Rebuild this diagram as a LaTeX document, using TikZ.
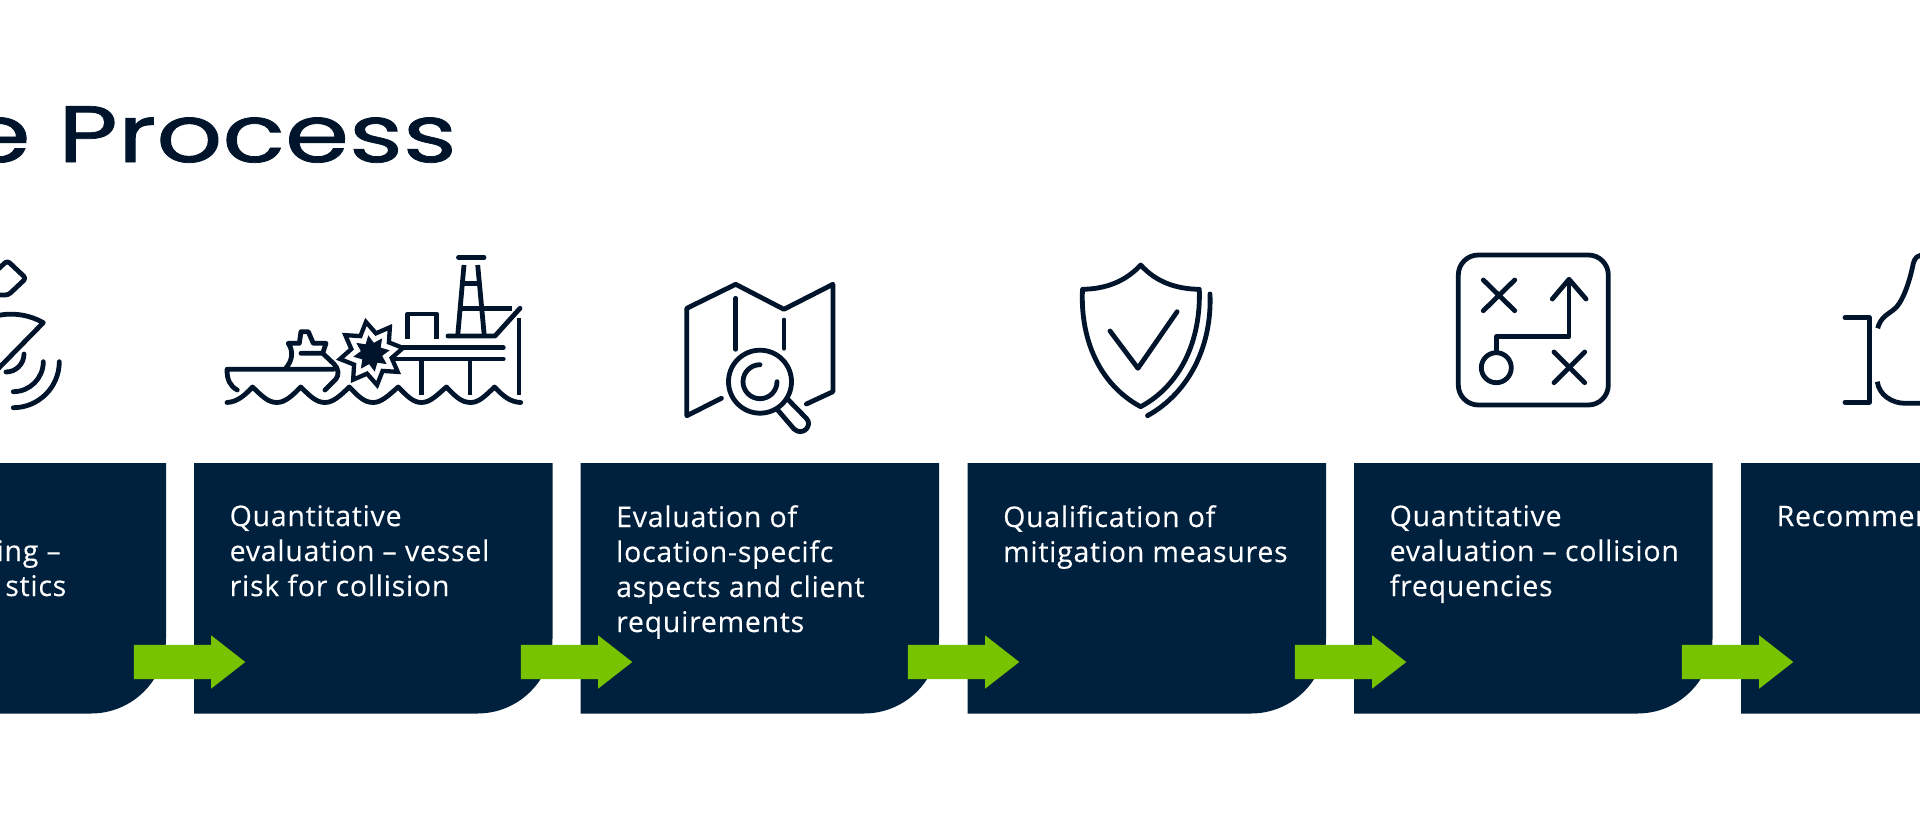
\documentclass[tikz,border=0pt]{standalone}
\usepackage{fontspec}
\setmainfont[LetterSpace=2.6,FakeBold=0.2]{Open Sans}
\newfontfamily\titlefont[FakeBold=0.9]{Poppins}
\usetikzlibrary{shapes.arrows,shapes.geometric}
\definecolor{boxblue}{HTML}{00213E}
\definecolor{inkblue}{HTML}{00142B}
\definecolor{arrowgreen}{HTML}{78C300}

% one panel of the process, bottom right corner rounded
\newcommand{\boxfill}[1]{
  \fill[boxblue] (#1,463) -- (#1+358.5,463) [rounded corners=75pt] -- (#1+358.5,713.5)
    [sharp corners] -- (#1,713.5) -- cycle;
}

\begin{document}
\begin{tikzpicture}[x=1pt,y=-1pt,node distance=387pt]
  \tikzstyle{steptext}=[anchor=north west,inner sep=0pt,align=left,text=white,
                        font=\fontsize{28.5}{35}\selectfont,
                        execute at begin node={\rule{0pt}{21pt}}]
  \tikzstyle{stepend}=[anchor=base east,inner sep=0pt,text=white,font=\fontsize{28.5}{35}\selectfont]
  \tikzstyle{steparrow}=[single arrow,fill=arrowgreen,inner sep=0pt,minimum height=111.5pt,
                         minimum width=53pt,text height=34pt,text depth=0pt,text width=1pt,
                         single arrow head extend=9.5pt,
                         single arrow tip angle=76,single arrow head indent=0pt]
  \tikzstyle{icon}=[draw=inkblue,line width=4.8pt,line cap=round,line join=round]
  \tikzstyle{iconflat}=[draw=inkblue,line width=4.8pt,line join=round]

  \useasboundingbox (0,0) rectangle (1920,827);
  \clip (0,0) rectangle (1920,827);

  \node[anchor=base east,inner sep=0pt,text=inkblue,font=\titlefont\fontsize{80}{90}\selectfont] (title) at (457,162)
    {\scalebox{1.29}[1]{e Process}};

  \boxfill{-192.5}
  \boxfill{194}
  \boxfill{580.5}
  \boxfill{967.5}
  \boxfill{1354}
  \boxfill{1741}

  \node[stepend] (t1a) at (61,561) {ing --};
  \node[stepend] (t1b) at (66.5,596) {stics};
  \node[steptext] (t2) at (229.5,505) {Quantitative\\evaluation -- vessel\\risk for collision};
  \node[steptext] (t3) at (616,505) {Evaluation of\\location-specifc\\aspects and client\\requirements};
  \node[steptext] (t4) at (1003,505) {Qualification of\\mitigation measures};
  \node[steptext] (t5) at (1389.5,505) {Quantitative\\evaluation -- collision\\frequencies};
  \node[steptext] (t6) at (1776.5,505) {Recommen};

  \node[steparrow] (a1) at (178.5,662) {};
  \node[steparrow] (a2) [right of=a1] {};
  \node[steparrow] (a3) [right of=a2] {};
  \node[steparrow] (a4) [right of=a3] {};
  \node[steparrow] (a5) [right of=a4] {};

  % dish
  \draw[icon,rounded corners=3pt] (-6,273) -- (7.3,260.7) -- (26,278.3) -- (8.3,295) -- (-6,295);
  \draw[icon] (-6,316.5) .. controls (10,312) and (28,314) .. (43.3,322.7) -- (-8,375);
  \draw[icon] (24,354) arc[start angle=0,end angle=-90,radius=18pt];
  \draw[icon] (43.3,361.7) arc[start angle=0,end angle=-90,radius=30pt];
  \draw[icon] (59.3,361.7) arc[start angle=0,end angle=-90,radius=46pt];

  % ship and platform
  \draw[icon] (227,402.5) .. controls (238,402) and (246,394) .. (252.5,387)
    .. controls (262,396) and (268,402.5) .. (276.8,402.5) .. controls (285,402.5) and (292,396) .. (300.7,387)
    .. controls (310,396) and (316,402.5) .. (325,402.5) .. controls (333,402.5) and (340,396) .. (349.3,387)
    .. controls (358,396) and (364,402.5) .. (373.2,402.5) .. controls (381,402.5) and (388,396) .. (398.2,387)
    .. controls (407,396) and (413,402.5) .. (421.4,402.5) .. controls (430,402.5) and (436,396) .. (446.4,387)
    .. controls (455,396) and (461,402.5) .. (470.7,402.5) .. controls (479,402.5) and (485,396) .. (494.6,387)
    .. controls (503,396) and (510,402) .. (520.7,402.5);
  \draw[icon] (237.3,390) .. controls (230,386) and (227,380) .. (227,369.3) -- (333.3,369.3);
  \draw[icon] (285.7,368.3) .. controls (292,361) and (294,352) .. (288.3,343.3) -- (299.3,343.3) -- (301,331.7)
    -- (308.3,331.7) -- (313.3,343.3) -- (326,343.3) -- (322.7,353.3) -- (301,353.3);
  \draw[icon] (322.7,353.3) -- (334,364) .. controls (339,369) and (339,375) .. (336,379) -- (325,390);
  \draw[iconflat] (407.7,339.3) -- (407.7,314) -- (436.7,314) -- (436.7,339.3);
  \draw[icon] (396,347.7) -- (503.3,347.7);
  \draw[icon] (396,359) -- (503.3,359);
  \draw[iconflat] (421.7,360) -- (421.7,395);
  \draw[iconflat] (470,360) -- (470,395);
  \draw[iconflat] (519,318) -- (519,395);
  \draw[icon] (458.5,257.3) -- (484,257.3);
  \draw[iconflat] (464,265) -- (457.7,336);
  \draw[iconflat] (477.7,265) -- (484.3,336);
  \draw[iconflat] (462,283.3) -- (480,283.3);
  \draw[iconflat] (461.7,308.3) -- (511.7,308.3);
  \draw[icon] (448,336) -- (495,336) -- (520,308.3);
  \node[star,star points=8,star point ratio=1.55,minimum size=64pt,inner sep=0pt,
        draw=inkblue,fill=white,line width=4.3pt,rotate=10] (burst) at (371.5,353.5) {};
  \node[star,star points=8,star point ratio=1.7,minimum size=37pt,inner sep=0pt,
        fill=inkblue,rotate=10] (burstcore) at (371.5,353.5) {};

  % map with lens
  \draw[icon] (721.4,398.3) -- (686.8,415.7) -- (686.8,308.3) -- (735.7,284.3) -- (783.9,309.3) -- (832.9,284.3)
    -- (832.9,391.7) -- (806.4,404);
  \draw[icon] (735.7,298.3) -- (735.7,349.3);
  \draw[icon] (783.9,320) -- (783.9,348.3);
  \node[circle,draw=inkblue,line width=4.8pt,minimum size=63pt,inner sep=0pt] (lens) at (760,381.7) {};
  \draw[icon] (760,364.7) arc[start angle=90,end angle=360,radius=17pt];
  \draw[icon] (786.8,398.3) -- (806.5,418.5) .. controls (813,425) and (803,437) .. (794,429) -- (777.1,409.3);

  % shield
  \draw[icon] (1140.7,265) .. controls (1125,282) and (1105,289) .. (1082.5,289.3)
    .. controls (1080,340) and (1100,385) .. (1140.7,406.7)
    .. controls (1181,385) and (1201,340) .. (1199.3,289.3)
    .. controls (1176,289) and (1156,282) .. cycle;
  \draw[icon] (1210,294) .. controls (1212,345) and (1190,392) .. (1147.5,415.7);
  \draw[icon] (1110,331) -- (1137.9,368.3) -- (1177.1,311.7);

  % route board
  \draw[icon,rounded corners=20pt] (1458.3,255) rectangle (1608.3,405);
  \draw[icon] (1483.3,280) -- (1514.7,310.7);
  \draw[icon] (1514.7,280) -- (1483.3,310.7);
  \draw[icon] (1554,352) -- (1584.7,382.7);
  \draw[icon] (1584.7,352) -- (1554,382.7);
  \node[circle,draw=inkblue,line width=4.8pt,minimum size=30pt,inner sep=0pt] (start) at (1496.3,367.7) {};
  \draw[icon] (start) -- (1496.3,336.7) -- (1569,336.7) -- (1569,280);
  \draw[icon] (1552.3,299) -- (1569,279.3) -- (1586,299);

  % thumb
  \draw[icon] (1845,317.7) -- (1869.3,317.7) -- (1869.3,402.3) -- (1845,402.3);
  \draw[iconflat] (1877.7,328.3) .. controls (1880,318) and (1888,314) .. (1893.3,310)
    .. controls (1903,303) and (1910,280) .. (1913.3,263.3) .. controls (1915,257) and (1918,255) .. (1925,255);
  \draw[iconflat] (1877.3,381.7) .. controls (1879,395) and (1892,403.3) .. (1905,403.3) -- (1925,403.3);
\end{tikzpicture}
\end{document}
